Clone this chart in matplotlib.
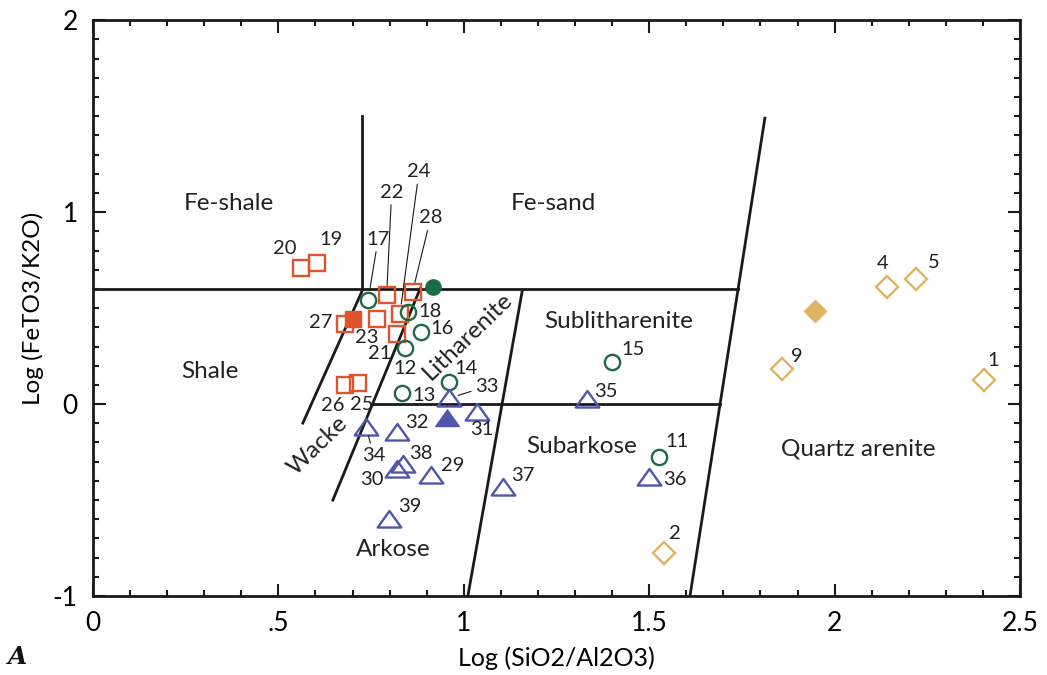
import numpy as np
import matplotlib
matplotlib.use("Agg")
import matplotlib.pyplot as plt
from matplotlib import font_manager
from matplotlib.path import Path
from matplotlib.ticker import MultipleLocator, FixedLocator

# sample points: Log(SiO2/Al2O3), Log(Fe2O3/K2O)
sq_ids = ["19", "20", "21", "22", "23", "24", "25", "26", "27", "28"]
sq_x = [0.603, 0.560, 0.819, 0.792, 0.765, 0.828, 0.716, 0.680, 0.680, 0.862]
sq_y = [0.736, 0.707, 0.365, 0.568, 0.441, 0.472, 0.111, 0.099, 0.417, 0.585]
sq_mean = (0.700, 0.441)

ci_ids = ["11", "12", "13", "14", "15", "16", "17", "18"]
ci_x = [1.527, 0.841, 0.833, 0.961, 1.401, 0.884, 0.742, 0.850]
ci_y = [-0.278, 0.290, 0.056, 0.116, 0.220, 0.377, 0.542, 0.481]
ci_mean = (0.918, 0.611)

tr_ids = ["29", "30", "31", "32", "33", "34", "35", "36", "37", "38", "39"]
tr_x = [0.911, 0.819, 1.037, 0.821, 0.960, 0.736, 1.331, 1.500, 1.107, 0.835, 0.799]
tr_y = [-0.370, -0.340, -0.040, -0.144, 0.030, -0.118, 0.026, -0.379, -0.434, -0.313, -0.601]
tr_mean = (0.954, -0.074)

di_ids = ["1", "2", "4", "5", "9"]
di_x = [2.403, 1.541, 2.142, 2.219, 1.857]
di_y = [0.125, -0.778, 0.611, 0.651, 0.181]
di_mean = (1.947, 0.486)

# field boundaries of the classification diagram
bounds = [
    ([0.0, 1.74], [0.6, 0.6]),
    ([0.725, 0.725], [0.6, 1.5]),
    ([0.754, 1.691], [0.0, 0.0]),
    ([0.566, 0.728], [-0.099, 0.599]),
    ([0.647, 0.882], [-0.5, 0.6]),
    ([1.011, 1.157], [-1.0, 0.583]),
    ([1.610, 1.812], [-1.0, 1.49]),
]

fields = ["Fe-shale", "Fe-sand", "Shale", "Sublitharenite", "Subarkose",
          "Quartz arenite", "Arkose", "Litharenite", "Wacke"]
field_x = [0.367, 1.241, 0.316, 1.417, 1.318, 2.064, 0.810, 1.010, 0.607]
field_y = [1.047, 1.047, 0.172, 0.432, -0.219, -0.234, -0.760, 0.352, -0.214]
field_rot = [0, 0, 0, 0, 0, 0, 0, 44, 44]

# label offsets in pixels (right, up)
label_off = {
    "1": (9, 20), "2": (10, 20), "4": (-5, 23), "5": (18, 17), "9": (15, 13),
    "11": (18, 16), "12": (0, -20), "13": (22, -2), "14": (17, 13), "15": (21, 12),
    "16": (21, 3), "17": (10, 61), "18": (22, 0), "19": (14, 23), "20": (-16, 20),
    "21": (-17, -19), "22": (5, 103), "23": (-10, -18), "24": (19, 142),
    "25": (3, -22), "26": (-12, -20), "27": (-24, 2), "28": (18, 74),
    "29": (22, 10), "30": (-25, -10), "31": (4, -18), "32": (19, 9), "33": (38, 12),
    "34": (8, -29), "35": (19, 8), "36": (26, -3), "37": (19, 12), "38": (18, 11),
    "39": (21, 13),
}
leaders = ["17", "22", "24", "28", "33", "34"]

names = {f.name for f in font_manager.fontManager.ttflist}
main_font = "Lato" if "Lato" in names else "DejaVu Sans"
narrow_font = "Liberation Sans Narrow" if "Liberation Sans Narrow" in names else main_font
plt.rcParams["font.family"] = main_font

red = "#e0532d"
green = "#1d6a47"
blue = "#5056aa"
gold = "#e2b35f"
tri = Path([(-1, -0.68), (1, -0.68), (0, 0.72), (-1, -0.68)],
           [Path.MOVETO, Path.LINETO, Path.LINETO, Path.CLOSEPOLY])

fig = plt.figure(figsize=(10.47, 6.75), dpi=100)
ax = fig.add_axes([0.0888, 0.117, 0.8854, 0.853])

for bx, by in bounds:
    ax.plot(bx, by, color="#1a1a1a", lw=2, zorder=1)

ax.plot(sq_x, sq_y, "s", ms=11.5, mfc="none", mec=red, mew=1.7, ls="none", zorder=3)
ax.plot(*sq_mean, "s", ms=11.5, mfc=red, mec=red, zorder=3)
ax.plot(ci_x, ci_y, "o", ms=11, mfc="none", mec=green, mew=1.7, ls="none", zorder=3)
ax.plot(*ci_mean, "o", ms=11, mfc=green, mec=green, zorder=3)
ax.plot(tr_x, tr_y, marker=tri, ms=17, mfc="none", mec=blue, mew=1.7, ls="none", zorder=3)
ax.plot(*tr_mean, marker=tri, ms=17, mfc=blue, mec=blue, zorder=3)
ax.plot(di_x, di_y, "D", ms=11.5, mfc="none", mec=gold, mew=1.7, ls="none", zorder=3)
ax.plot(*di_mean, "D", ms=11.5, mfc=gold, mec=gold, zorder=3)

for ids, xs, ys in [(sq_ids, sq_x, sq_y), (ci_ids, ci_x, ci_y),
                    (tr_ids, tr_x, tr_y), (di_ids, di_x, di_y)]:
    for lab, x, y in zip(ids, xs, ys):
        arrow = None
        if lab in leaders:
            arrow = dict(arrowstyle="-", lw=0.8, color="#1a1a1a", shrinkA=1, shrinkB=7)
        ax.annotate(lab, (x, y), xytext=label_off[lab], textcoords="offset pixels",
                    ha="center", va="center", fontsize=14.5, color="#222222",
                    arrowprops=arrow, zorder=4)

for name, x, y, r in zip(fields, field_x, field_y, field_rot):
    ax.text(x, y, name, ha="center", va="center", rotation=r, fontsize=17.5,
            color="#222222", rotation_mode="anchor", zorder=2)

ax.set_xlim(0, 2.5)
ax.set_ylim(-1, 2)
ax.xaxis.set_major_locator(FixedLocator([0, 0.5, 1, 1.5, 2, 2.5]))
ax.set_xticklabels(["0", ".5", "1", "1.5", "2", "2.5"], fontfamily=narrow_font, fontsize=19)
ax.xaxis.set_minor_locator(MultipleLocator(0.1))
ax.yaxis.set_major_locator(FixedLocator([-1, 0, 1, 2]))
ax.set_yticklabels(["-1", "0", "1", "2"], fontsize=19)
ax.yaxis.set_minor_locator(MultipleLocator(0.1))
ax.tick_params(which="both", direction="in", top=True, right=True, width=1.5, color="#1a1a1a")
ax.tick_params(which="major", length=9)
ax.tick_params(which="minor", length=4.5)
ax.tick_params(axis="x", which="major", pad=11)
ax.tick_params(axis="y", which="major", pad=11)
for s in ax.spines.values():
    s.set_linewidth(2)
    s.set_color("#1a1a1a")

ax.set_xlabel("Log (SiO2/Al2O3)", fontfamily=narrow_font, fontsize=18, labelpad=7)
ax.set_ylabel("Log (FeTO3/K2O)", fontsize=17.5, labelpad=6)
fig.text(0.008, 0.016, "A", fontsize=18, fontweight="bold", fontstyle="italic",
         fontfamily="DejaVu Serif", color="#111111")

fig.savefig("out.png", dpi=100)
